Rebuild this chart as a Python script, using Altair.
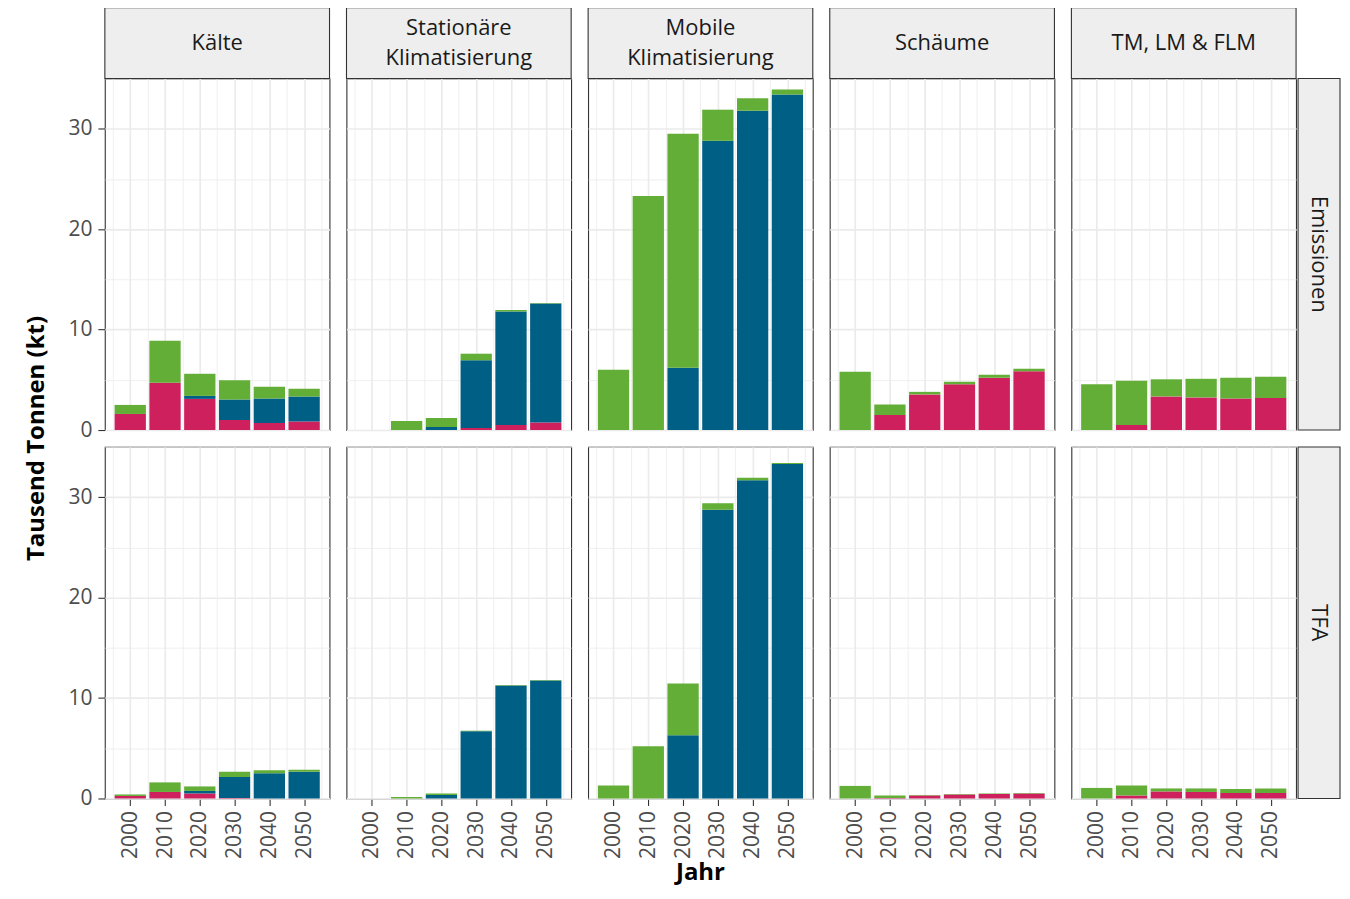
import altair as alt
import pandas as pd

years = [2000, 2010, 2020, 2030, 2040, 2050]
sectors = ["Kälte", "Stationäre Klimatisierung", "Mobile Klimatisierung", "Schäume", "TM, LM & FLM"]
strip_line1 = ["Kälte", "Stationäre", "Mobile", "Schäume", "TM, LM & FLM"]
strip_line2 = ["", "Klimatisierung", "Klimatisierung", "", ""]
types = ["Emissionen", "TFA"]
y_title = "Tausend Tonnen (kt)"
x_title = "Jahr"
# stacking order bottom -> top
categories = ["andere HFO", "HFO-1234yf", "HFKW"]
colors = ["#CF205E", "#005F85", "#62AE37"]

# Emissionen
em_kaelte_magenta = [1.6, 4.7, 3.1, 1.0, 0.7, 0.85]
em_kaelte_blue = [0.0, 0.0, 0.3, 2.05, 2.45, 2.5]
em_kaelte_green = [0.9, 4.2, 2.2, 1.9, 1.15, 0.75]

em_stat_magenta = [0.0, 0.0, 0.0, 0.2, 0.5, 0.75]
em_stat_blue = [0.0, 0.0, 0.3, 6.75, 11.3, 11.85]
em_stat_green = [0.0, 0.9, 0.9, 0.65, 0.15, 0.05]

em_mob_magenta = [0.0, 0.0, 0.0, 0.0, 0.0, 0.0]
em_mob_blue = [0.0, 0.0, 6.2, 28.8, 31.8, 33.4]
em_mob_green = [6.0, 23.3, 23.3, 3.1, 1.25, 0.5]

em_schaum_magenta = [0.0, 1.5, 3.55, 4.55, 5.2, 5.85]
em_schaum_blue = [0.0, 0.0, 0.0, 0.0, 0.0, 0.0]
em_schaum_green = [5.8, 1.05, 0.25, 0.25, 0.3, 0.25]

em_tm_magenta = [0.0, 0.5, 3.35, 3.25, 3.15, 3.2]
em_tm_blue = [0.0, 0.0, 0.0, 0.0, 0.0, 0.0]
em_tm_green = [4.55, 4.4, 1.7, 1.85, 2.05, 2.1]

# TFA
tfa_kaelte_magenta = [0.25, 0.65, 0.5, 0.05, 0.0, 0.0]
tfa_kaelte_blue = [0.0, 0.0, 0.25, 2.1, 2.5, 2.65]
tfa_kaelte_green = [0.15, 0.95, 0.45, 0.5, 0.3, 0.2]

tfa_stat_magenta = [0.0, 0.0, 0.0, 0.0, 0.0, 0.0]
tfa_stat_blue = [0.0, 0.0, 0.35, 6.7, 11.25, 11.75]
tfa_stat_green = [0.0, 0.15, 0.15, 0.05, 0.05, 0.05]

tfa_mob_magenta = [0.0, 0.0, 0.0, 0.0, 0.0, 0.0]
tfa_mob_blue = [0.0, 0.0, 6.3, 28.75, 31.7, 33.3]
tfa_mob_green = [1.3, 5.2, 5.15, 0.65, 0.25, 0.1]

tfa_schaum_magenta = [0.0, 0.05, 0.3, 0.4, 0.45, 0.5]
tfa_schaum_blue = [0.0, 0.0, 0.0, 0.0, 0.0, 0.0]
tfa_schaum_green = [1.25, 0.25, 0.05, 0.05, 0.05, 0.05]

tfa_tm_magenta = [0.0, 0.3, 0.7, 0.65, 0.55, 0.55]
tfa_tm_blue = [0.0, 0.0, 0.0, 0.0, 0.0, 0.0]
tfa_tm_green = [1.05, 1.0, 0.3, 0.35, 0.4, 0.45]

series = {
    ("Emissionen", "Kälte"): (em_kaelte_magenta, em_kaelte_blue, em_kaelte_green),
    ("Emissionen", "Stationäre Klimatisierung"): (em_stat_magenta, em_stat_blue, em_stat_green),
    ("Emissionen", "Mobile Klimatisierung"): (em_mob_magenta, em_mob_blue, em_mob_green),
    ("Emissionen", "Schäume"): (em_schaum_magenta, em_schaum_blue, em_schaum_green),
    ("Emissionen", "TM, LM & FLM"): (em_tm_magenta, em_tm_blue, em_tm_green),
    ("TFA", "Kälte"): (tfa_kaelte_magenta, tfa_kaelte_blue, tfa_kaelte_green),
    ("TFA", "Stationäre Klimatisierung"): (tfa_stat_magenta, tfa_stat_blue, tfa_stat_green),
    ("TFA", "Mobile Klimatisierung"): (tfa_mob_magenta, tfa_mob_blue, tfa_mob_green),
    ("TFA", "Schäume"): (tfa_schaum_magenta, tfa_schaum_blue, tfa_schaum_green),
    ("TFA", "TM, LM & FLM"): (tfa_tm_magenta, tfa_tm_blue, tfa_tm_green),
}

rows = []
for (typ, sek), cats in series.items():
    si = sectors.index(sek)
    for ci, vals in enumerate(cats):
        for yi, yr in enumerate(years):
            rows.append({"Typ": typ, "Sektor": sek,
                         "L1": strip_line1[si], "L2": strip_line2[si],
                         "Kategorie": categories[ci], "ord": ci,
                         "Jahr": yr, "Wert": vals[yi]})
df = pd.DataFrame(rows)

W = 225
H = 352
FONT = "Open Sans"
STRIP_FILL = "#EEEEEE"
BORDER = "#333333"

major = "datum.value % 10 === 0"

bars = alt.Chart(df).transform_filter(
    "datum.Wert > 0"
).transform_stack(
    stack="Wert", groupby=["Typ", "Sektor", "Jahr"], as_=["y0", "y1"],
    sort=[alt.SortField("ord", order="ascending")]
).transform_calculate(
    x0="datum.Jahr - 4.5", x1="datum.Jahr + 4.5"
).mark_bar().encode(
    x=alt.X("x0:Q",
            scale=alt.Scale(domain=[1992.7, 2057.3], nice=False, zero=False),
            axis=alt.Axis(title=None, values=[1995, 2000, 2005, 2010, 2015, 2020, 2025,
                                              2030, 2035, 2040, 2045, 2050, 2055],
                          format="d", labelExpr=f"{major} ? datum.label : ''",
                          labelAngle=270, labelAlign="right", labelBaseline="middle",
                          labelPadding=5, labelFontSize=21,
                          tickColor={"condition": {"test": major, "value": BORDER},
                                     "value": "transparent"},
                          gridWidth={"condition": {"test": major, "value": 1.7},
                                     "value": 0.8})),
    x2="x1:Q",
    y=alt.Y("y0:Q",
            scale=alt.Scale(domain=[0, 35], nice=False, zero=True),
            axis=alt.Axis(title=None, values=[0, 5, 10, 15, 20, 25, 30, 35],
                          labelExpr=f"{major} && datum.value < 35 ? datum.label : ''",
                          labelPadding=6, labelFontSize=21,
                          tickColor={"condition": {"test": f"{major} && datum.value < 35",
                                                   "value": BORDER},
                                     "value": "transparent"},
                          gridWidth={"condition": {"test": major, "value": 1.7},
                                     "value": 0.8})),
    y2="y1:Q",
    color=alt.Color("Kategorie:N", scale=alt.Scale(domain=categories, range=colors),
                    legend=None),
)

one_per_cell = "datum.Jahr == 2000 && datum.ord == 0"
top_filter = f"datum.Typ == 'Emissionen' && {one_per_cell}"
right_filter = f"datum.Sektor == 'TM, LM & FLM' && {one_per_cell}"

top_rect = alt.Chart(df).transform_filter(top_filter).mark_rect(
    fill=STRIP_FILL, stroke=BORDER, strokeWidth=1.1
).encode(x=alt.value(0), x2=alt.value(W), y=alt.value(-71), y2=alt.value(0))

strip_txt = dict(font=FONT, fontSize=22, color="#1A1A1A", align="center", baseline="middle")
top_single = alt.Chart(df).transform_filter(top_filter).transform_filter(
    "datum.L2 == ''"
).mark_text(**strip_txt).encode(x=alt.value(W / 2), y=alt.value(-36), text="L1:N")
top_first = alt.Chart(df).transform_filter(top_filter).transform_filter(
    "datum.L2 != ''"
).mark_text(**strip_txt).encode(x=alt.value(W / 2), y=alt.value(-51), text="L1:N")
top_second = alt.Chart(df).transform_filter(top_filter).transform_filter(
    "datum.L2 != ''"
).mark_text(**strip_txt).encode(x=alt.value(W / 2), y=alt.value(-21), text="L2:N")

right_rect = alt.Chart(df).transform_filter(right_filter).mark_rect(
    fill=STRIP_FILL, stroke=BORDER, strokeWidth=1.1
).encode(x=alt.value(W + 2), x2=alt.value(W + 44), y=alt.value(0), y2=alt.value(H))
right_text = alt.Chart(df).transform_filter(right_filter).mark_text(
    angle=90, **strip_txt
).encode(x=alt.value(W + 23), y=alt.value(H / 2), text="Typ:N")

# axis titles, centred on the panel block as in the reference
ytitle = alt.Chart(df).transform_filter(
    f"datum.Typ == 'Emissionen' && datum.Sektor == 'Kälte' && {one_per_cell}"
).mark_text(font=FONT, fontSize=24, fontWeight="bold", color="black", angle=270,
            align="center", baseline="middle", text=y_title).encode(
    x=alt.value(-68), y=alt.value(H + 8.5)
)
xtitle = alt.Chart(df).transform_filter(
    f"datum.Typ == 'TFA' && datum.Sektor == 'Mobile Klimatisierung' && {one_per_cell}"
).mark_text(font=FONT, fontSize=24, fontWeight="bold", color="black",
            align="center", baseline="middle", text=x_title).encode(
    x=alt.value(W / 2), y=alt.value(H + 75)
)

layered = alt.layer(
    bars, top_rect, top_single, top_first, top_second, right_rect, right_text,
    ytitle, xtitle
).properties(width=W, height=H)

chart = layered.facet(
    row=alt.Row("Typ:N", sort=types, title=None, header=None),
    column=alt.Column("Sektor:N", sort=sectors, title=None, header=None),
    spacing={"row": 17, "column": 17},
    bounds="flush",
).properties(
    padding={"left": 16, "top": -3, "right": 0, "bottom": 0}
).configure_view(
    stroke=BORDER, strokeWidth=1.1, fill="white"
).configure_axis(
    labelFont=FONT, labelColor="#4D4D4D",
    tickSize=7, tickWidth=1.1, domain=False, gridColor="#EBEBEB"
)

chart.save("out.html", embed_options={"renderer": "svg", "actions": False})
